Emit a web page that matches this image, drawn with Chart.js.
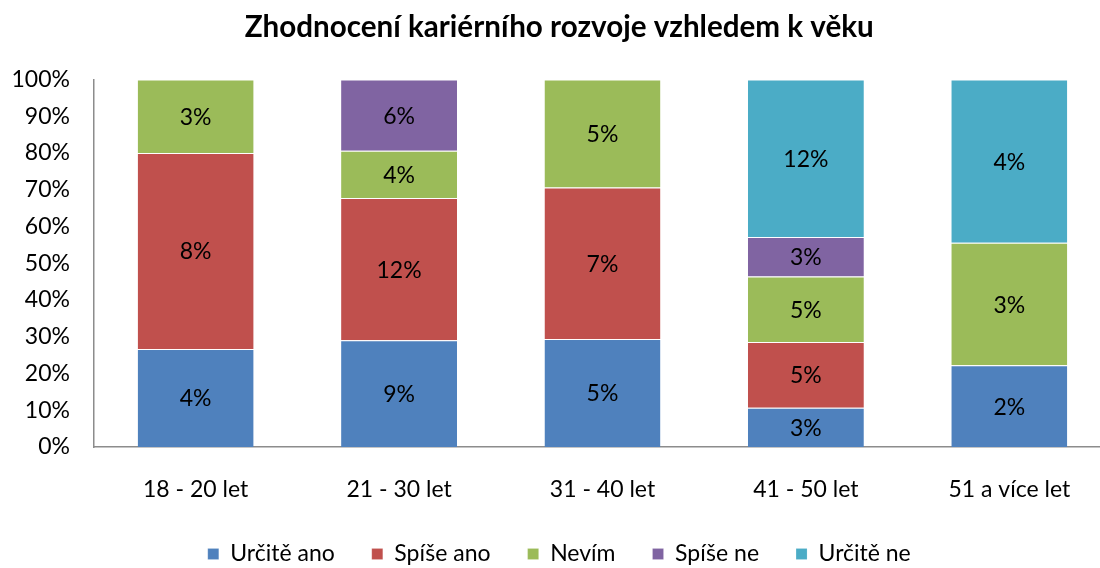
<!DOCTYPE html>
<html>
<head>
<meta charset="utf-8">
<script src="https://cdn.jsdelivr.net/npm/chart.js@4/dist/chart.umd.min.js"></script>
<style>
  html, body { margin: 0; padding: 0; background: #fff; }
  #wrap { width: 1100px; height: 568px; }
</style>
</head>
<body>
<div id="wrap"><canvas id="chart"></canvas></div>
<script>
// age groups
const categories = ['18 - 20 let', '21 - 30 let', '31 - 40 let', '41 - 50 let', '51 a více let']

// share of all respondents (%), as labelled in the bars
const urciteAno = [4, 9, 5, 3, 2]
const spiseAno = [8, 12, 7, 5, 0]
const nevim = [3, 4, 5, 5, 3]
const spiseNe = [0, 6, 0, 3, 0]
const urciteNe = [0, 0, 0, 12, 4]

const yTicks = [0, 10, 20, 30, 40, 50, 60, 70, 80, 90, 100]

const seriesList = [
	{label: 'Určitě ano', values: urciteAno, color: '#4F81BD'},
	{label: 'Spíše ano', values: spiseAno, color: '#C0504D'},
	{label: 'Nevím', values: nevim, color: '#9BBB59'},
	{label: 'Spíše ne', values: spiseNe, color: '#8064A2'},
	{label: 'Určitě ne', values: urciteNe, color: '#4BACC6'}
]

// column totals, used to stack each bar up to 100 %
const totals = categories.map((c, i) => seriesList.reduce((s, d) => s + d.values[i], 0))

const FONT = 'Lato, "Open Sans", sans-serif'

// draws the raw percentage in the middle of each segment
const segmentLabels = {
	id: 'segmentLabels',
	afterDatasetsDraw(chart) {
		const ctx = chart.ctx
		ctx.save()
		ctx.font = '23px ' + FONT
		ctx.fillStyle = '#000'
		ctx.textAlign = 'center'
		ctx.textBaseline = 'middle'
		chart.data.datasets.forEach((ds, di) => {
			chart.getDatasetMeta(di).data.forEach((bar, i) => {
				const raw = ds.raw[i]
				if (!raw) return
				const mid = (bar.y + bar.base) / 2
				ctx.fillText(raw + '%', bar.x, mid + 1)
			})
		})
		ctx.restore()
	}
}

// the plot area in the original runs past the right edge of the picture
const EXTRA_RIGHT = 11
const widenPlot = {
	id: 'widenPlot',
	afterLayout(chart) {
		const x = chart.scales.x
		x.right += EXTRA_RIGHT
		x.width += EXTRA_RIGHT
		x.configure()
		chart.chartArea.right += EXTRA_RIGHT
		chart.chartArea.width += EXTRA_RIGHT
	}
}

new Chart(document.getElementById('chart'), {
	type: 'bar',
	data: {
		labels: categories,
		datasets: seriesList.map(s => ({
			label: s.label,
			raw: s.values,
			data: s.values.map((v, i) => v / totals[i] * 100),
			backgroundColor: s.color,
			borderColor: 'rgba(255,255,255,0.6)',
			borderWidth: {top: 1, bottom: 0, left: 0, right: 0},
			borderSkipped: false,
			barPercentage: 0.57,
			categoryPercentage: 1
		}))
	},
	options: {
		responsive: true,
		maintainAspectRatio: false,
		animation: false,
		layout: {autoPadding: false, padding: {left: -4.5, right: -23, top: 6, bottom: -7.5}},
		plugins: {
			title: {
				display: true,
				text: 'Zhodnocení kariérního rozvoje vzhledem k věku',
				color: '#000',
				font: {family: FONT, size: 29.6, weight: 'bold'},
				padding: {top: 4, bottom: 34}
			},
			legend: {
				position: 'bottom',
				labels: {
					color: '#000',
					font: {family: FONT, size: 23},
					boxWidth: 11,
					boxHeight: 11,
					padding: 37
				}
			},
			tooltip: {enabled: false}
		},
		scales: {
			x: {
				stacked: true,
				grid: {display: false},
				border: {display: true, color: '#8c8c8c', width: 1.5},
				ticks: {color: '#000', font: {family: FONT, size: 23}, padding: 21},
				afterFit: scale => { scale.height = 58.5 }
			},
			y: {
				stacked: true,
				min: 0,
				max: 100,
				afterBuildTicks: axis => { axis.ticks = yTicks.map(v => ({value: v})) },
				grid: {display: false},
				border: {display: true, color: '#8c8c8c', width: 1.5},
				ticks: {
					color: '#000',
					font: {family: FONT, size: 23},
					padding: 16,
					callback: v => v + '%'
				}
			}
		}
	},
	plugins: [segmentLabels, widenPlot]
})
</script>
</body>
</html>
